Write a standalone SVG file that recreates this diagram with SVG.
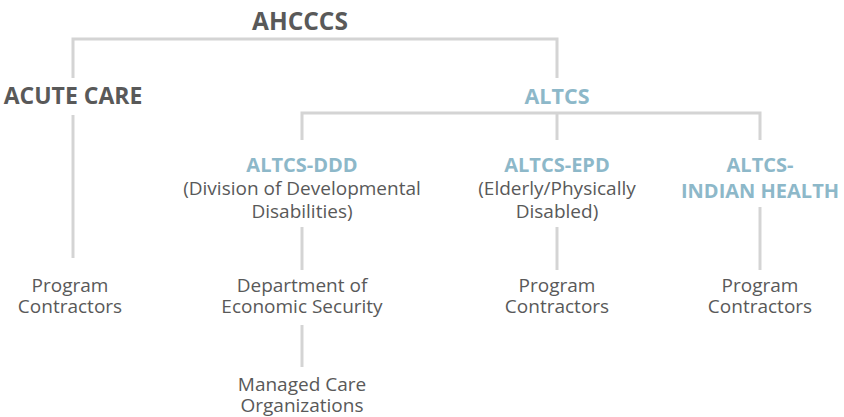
<svg xmlns="http://www.w3.org/2000/svg" width="844" height="417" viewBox="0 0 844 417">
  <style>
    .ln { stroke: #d4d4d4; stroke-width: 3; fill: none; }
    text { font-family: "Open Sans", "Liberation Sans", sans-serif; text-anchor: middle; }
    .root { font-size: 24.5px; font-weight: bold; fill: #595959; }
    .top { font-size: 23px; font-weight: bold; fill: #595959; }
    .blue { font-size: 20px; font-weight: bold; fill: #8db8c9; }
    .blueL { font-size: 21.5px; font-weight: bold; fill: #8db8c9; }
    .reg { font-size: 19px; fill: #595959; }
  </style>
  <rect width="844" height="417" fill="#ffffff"/>
  <g id="connectors">
    <path class="ln" d="M73 78 V39 H557 V78"/>
    <path class="ln" d="M73 115 V258"/>
    <path class="ln" d="M302 140 V113 H760 V140"/>
    <path class="ln" d="M557 113 V140"/>
    <path class="ln" d="M302 227 V270"/>
    <path class="ln" d="M557 227 V270"/>
    <path class="ln" d="M760 207 V270"/>
    <path class="ln" d="M302 325 V367"/>
  </g>
  <g id="ahcccs"><text class="root" x="300" y="30">AHCCCS</text></g>
  <g id="acute-care"><text class="top" x="73" y="104">ACUTE CARE</text></g>
  <g id="altcs"><text class="blueL" x="557" y="104">ALTCS</text></g>
  <g id="altcs-ddd">
    <text class="blue" x="302" y="172">ALTCS-DDD</text>
    <text class="reg" x="302" y="195">(Division of Developmental</text>
    <text class="reg" x="302" y="218">Disabilities)</text>
  </g>
  <g id="altcs-epd">
    <text class="blue" x="557" y="172">ALTCS-EPD</text>
    <text class="reg" x="557" y="195">(Elderly/Physically</text>
    <text class="reg" x="557" y="218">Disabled)</text>
  </g>
  <g id="altcs-ih">
    <text class="blue" x="760" y="172">ALTCS-</text>
    <text class="blue" x="760" y="198">INDIAN HEALTH</text>
  </g>
  <g id="acute-contractors">
    <text class="reg" x="70" y="292">Program</text>
    <text class="reg" x="70" y="313">Contractors</text>
  </g>
  <g id="des">
    <text class="reg" x="302" y="292">Department of</text>
    <text class="reg" x="302" y="313">Economic Security</text>
  </g>
  <g id="mco">
    <text class="reg" x="302" y="391">Managed Care</text>
    <text class="reg" x="302" y="412">Organizations</text>
  </g>
  <g id="epd-contractors">
    <text class="reg" x="557" y="292">Program</text>
    <text class="reg" x="557" y="313">Contractors</text>
  </g>
  <g id="ih-contractors">
    <text class="reg" x="760" y="292">Program</text>
    <text class="reg" x="760" y="313">Contractors</text>
  </g>
</svg>
